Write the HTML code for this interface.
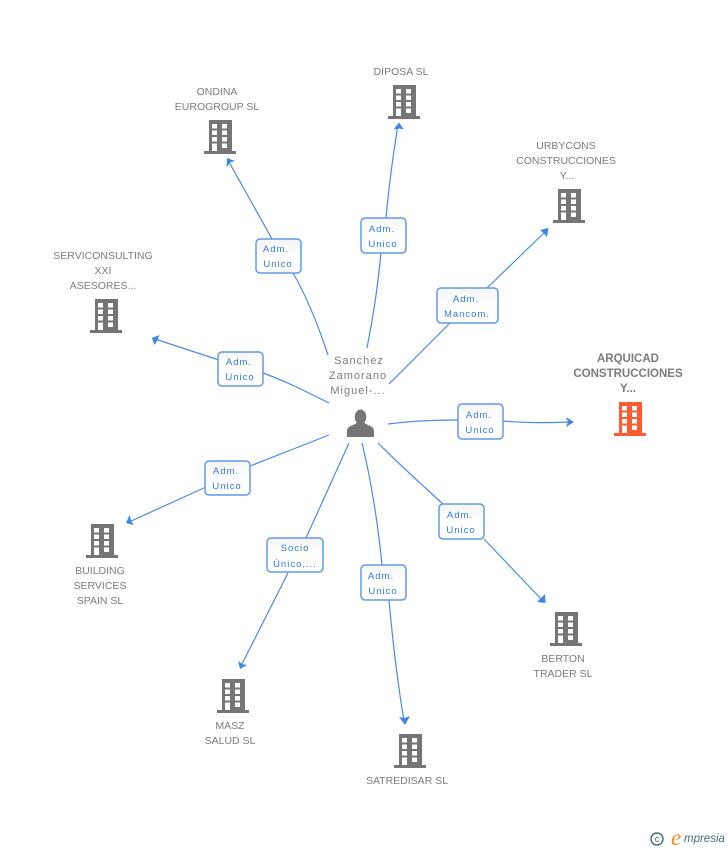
<!DOCTYPE html>
<html>
<head>
<meta charset="utf-8">
<style>
html,body{margin:0;padding:0;background:#fff;width:728px;height:850px;overflow:hidden}
svg{display:block;font-family:"Liberation Sans",sans-serif}
.n{font-size:10.5px;fill:#7c7c7c;text-anchor:middle}
.m{font-size:11px;fill:#7c7c7c;text-anchor:middle;letter-spacing:1px}
.a{font-size:11.5px;font-weight:bold;fill:#7c7c7c;text-anchor:middle}
.l{font-size:9.5px;fill:#2f7be0;text-anchor:middle;letter-spacing:1px}
.c{fill:none;stroke:#4a8ae6;stroke-width:1.2}
.b{fill:url(#bg);stroke:#6499e8;stroke-width:1.5}
.h{fill:#3f86ea}
</style>
</head>
<body>
<svg width="728" height="850" viewBox="0 0 728 850" xmlns="http://www.w3.org/2000/svg">
<defs>
<linearGradient id="bg" x1="0" y1="0" x2="0" y2="1"><stop offset="0" stop-color="#f5f5f5"/><stop offset="0.5" stop-color="#fff"/><stop offset="1" stop-color="#fff"/></linearGradient>
<g id="bld">
<path fill-rule="evenodd" d="M-11 0H12V31H16V34H-16V31H-11ZM-8 4V8.500H-3V4ZM2 4V8.500H7V4ZM-8 10.500V15H-3V10.500ZM2 10.500V15H7V10.500ZM-8 17V21.500H-3V17ZM2 17V21.500H7V17ZM-8 23.500V31H-3V23.500ZM2 23.500V28H7V23.500Z"/>
</g>
</defs>

<!-- connectors -->
<path class="c" d="M328 355C318 325 306 295 293 273"/>
<path class="c" d="M272 239L229 162"/>
<path class="c" d="M367 348C373 318 378 285 381 253"/>
<path class="c" d="M386 218C389 185 393 155 398 125"/>
<path class="c" d="M389 384L450 323"/>
<path class="c" d="M487 288L546 231"/>
<path class="c" d="M329 403C305 391 285 381 263 373"/>
<path class="c" d="M219 360L155 339"/>
<path class="c" d="M388 424C412 421 435 420 458 420"/>
<path class="c" d="M503 421C525 423 548 423 570 422"/>
<path class="c" d="M329 435C303 445 276 456 250 466"/>
<path class="c" d="M206 487L129 522"/>
<path class="c" d="M349 443L306 538"/>
<path class="c" d="M288 573L241 666"/>
<path class="c" d="M362 443C371 480 378 525 382 565"/>
<path class="c" d="M389 600C393 645 398 685 404 721"/>
<path class="c" d="M378 443C400 465 422 485 443 504"/>
<path class="c" d="M484 539L543 601"/>

<!-- arrowheads -->
<path class="h" d="M227 158L235 161L230 162.500L226.500 167.500Z"/>
<path class="h" d="M399 122.500L404 129.500L399 128.500L393.500 129.500Z"/>
<path class="h" d="M548.500 228L547 237L543.500 233L540 230Z"/>
<path class="h" d="M152 338L159.500 335L157 341L154.500 345Z"/>
<path class="h" d="M574 422L566 417L568 422L566 427Z"/>
<path class="h" d="M126 523L129.500 515L131 520L133.500 525Z"/>
<path class="h" d="M240 669L238 661L242 664L247 665Z"/>
<path class="h" d="M405 725L399 717L404.500 718L410 716Z"/>
<path class="h" d="M545.500 603L537 602L541 598L545 594Z"/>

<!-- label boxes -->
<g>
<rect class="b" x="256" y="239" width="45" height="34" rx="4"/>
<text class="l" x="276" y="252">Adm.</text><text class="l" x="278" y="267">Unico</text>
<rect class="b" x="361" y="218" width="45" height="35" rx="4"/>
<text class="l" x="382" y="232">Adm.</text><text class="l" x="383" y="247">Unico</text>
<rect class="b" x="437" y="288" width="61" height="35" rx="4"/>
<text class="l" x="466" y="302">Adm.</text><text class="l" x="467" y="317">Mancom.</text>
<rect class="b" x="218" y="352" width="45" height="34" rx="4"/>
<text class="l" x="239" y="365">Adm.</text><text class="l" x="240" y="380">Unico</text>
<rect class="b" x="458" y="404" width="45" height="35" rx="4"/>
<text class="l" x="479" y="418">Adm.</text><text class="l" x="480" y="433">Unico</text>
<rect class="b" x="205" y="461" width="45" height="34" rx="4"/>
<text class="l" x="226" y="474">Adm.</text><text class="l" x="227" y="489">Unico</text>
<rect class="b" x="439" y="504" width="45" height="35" rx="4"/>
<text class="l" x="460" y="518">Adm.</text><text class="l" x="461" y="533">Unico</text>
<rect class="b" x="267" y="538" width="56" height="34" rx="4"/>
<text class="l" x="295" y="551">Socio</text><text class="l" x="295" y="567">Único,...</text>
<rect class="b" x="361" y="565" width="45" height="35" rx="4"/>
<text class="l" x="381" y="579">Adm.</text><text class="l" x="383" y="594">Unico</text>
</g>

<!-- buildings -->
<g fill="#757575">
<use href="#bld" x="220" y="120"/>
<use href="#bld" x="404" y="85"/>
<use href="#bld" x="569" y="189"/>
<use href="#bld" x="106" y="299"/>
<use href="#bld" x="102" y="524"/>
<use href="#bld" x="566" y="612"/>
<use href="#bld" x="233" y="679"/>
<use href="#bld" x="410" y="734"/>
</g>
<g fill="#ff5a30"><use href="#bld" x="630" y="402"/></g>

<!-- person -->
<g fill="#757575">
<ellipse cx="360.500" cy="417" rx="5.800" ry="7.500"/>
<path d="M347 437V431C347 427 351 426 355 424L358 422H363L366 424C370 426 374 427 374 431V437Z"/>
</g>

<!-- node labels -->
<text class="n" x="217" y="95">ONDINA</text>
<text class="n" x="217" y="110">EUROGROUP SL</text>
<text class="n" x="401" y="75">DIPOSA SL</text>
<text class="n" x="566" y="149">URBYCONS</text>
<text class="n" x="566" y="164">CONSTRUCCIONES</text>
<text class="n" x="567" y="179">Y...</text>
<text class="n" x="103" y="259">SERVICONSULTING</text>
<text class="n" x="103" y="274">XXI</text>
<text class="n" x="103" y="289">ASESORES...</text>
<text class="m" x="359" y="364">Sanchez</text>
<text class="m" x="358" y="379">Zamorano</text>
<text class="m" x="358" y="394">Miguel-...</text>
<text class="a" x="628" y="362">ARQUICAD</text>
<text class="a" x="628" y="377">CONSTRUCCIONES</text>
<text class="a" x="628" y="392">Y...</text>
<text class="n" x="100" y="574">BUILDING</text>
<text class="n" x="100" y="589">SERVICES</text>
<text class="n" x="100" y="604">SPAIN  SL</text>
<text class="n" x="563" y="662">BERTON</text>
<text class="n" x="563" y="677">TRADER SL</text>
<text class="n" x="230" y="729">MASZ</text>
<text class="n" x="230" y="744">SALUD  SL</text>
<text class="n" x="407" y="784">SATREDISAR SL</text>

<!-- copyright -->
<circle cx="657" cy="839" r="6" fill="none" stroke="#3f6f78" stroke-width="1.400"/>
<text x="657" y="842" font-size="9" fill="#3f6f78" text-anchor="middle">c</text>
<text x="671" y="845" font-size="23" font-style="italic" fill="#f08a24" font-family="Liberation Serif, serif">e</text>
<text x="684" y="842" font-size="11.500" font-style="italic" fill="#3f6f78">mpresia</text>
</svg>
</body>
</html>
